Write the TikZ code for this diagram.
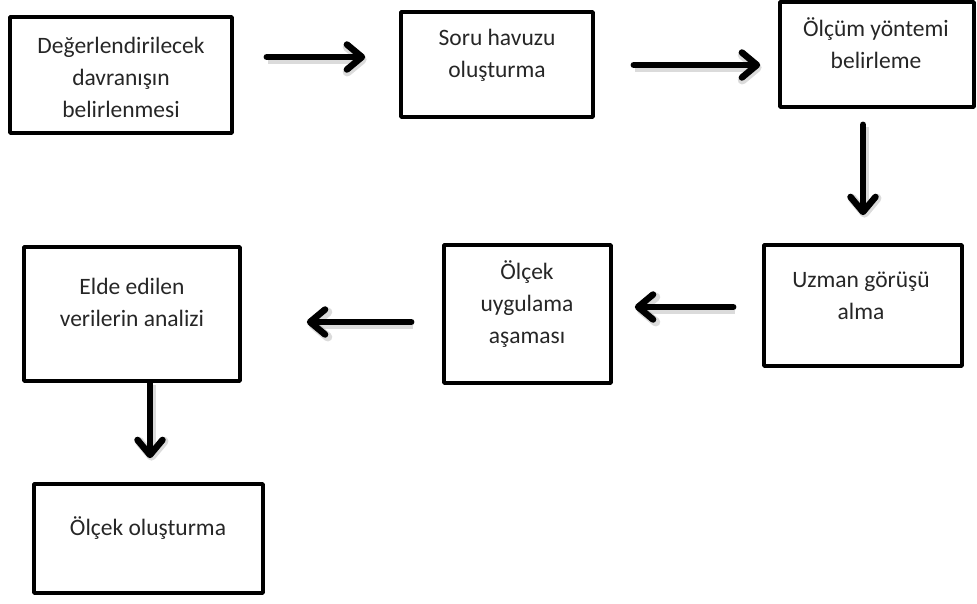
\documentclass[tikz,border=0pt]{standalone}
\usepackage{fontspec}
\setmainfont{Carlito}
\usetikzlibrary{arrows.meta,calc}
\begin{document}
\begin{tikzpicture}[x=1pt,y=-1pt,
  box/.style={draw=black,line width=3.6pt,rectangle,inner sep=0pt,line join=round},
  txt/.style={align=center,inner sep=0pt,text=black!85,font=\fontsize{23.5}{32}\selectfont},
  arr/.style={line width=6.5pt,line cap=round,
    -{Straight Barb[length=15pt,width=25pt,line cap=round,line join=round]},
    preaction={draw=black!40,opacity=0.35,line width=9pt,transform canvas={shift={(1.5pt,-2.5pt)}}}}]
\useasboundingbox (0,0) rectangle (977,603);
% boxes
\node[box,minimum width=222pt,minimum height=116pt] (b1) at (121,75) {};
\node[box,minimum width=192pt,minimum height=105pt] (b2) at (497,64.5) {};
\node[box,minimum width=194pt,minimum height=105pt] (b3) at (877,54.5) {};
\node[box,minimum width=198pt,minimum height=121pt] (b4) at (863,305.5) {};
\node[box,minimum width=167pt,minimum height=138pt] (b5) at (527.5,314) {};
\node[box,minimum width=216pt,minimum height=134pt] (b6) at (132,314) {};
\node[box,minimum width=229pt,minimum height=109pt] (b7) at (148.5,538.5) {};
% texts
\node[txt] (t1) at (121,77) {Değerlendirilecek\\davranışın\\belirlenmesi};
\node[txt] (t2) at (497,55) {Soru havuzu\\oluşturma};
\node[txt] (t3) at (876,43) {Ölçüm yöntemi\\belirleme};
\node[txt] (t4) at (861,296) {Uzman görüşü\\alma};
\node[txt] (t5) at (527,304) {Ölçek\\uygulama\\aşaması};
\node[txt] (t6) at (132,302) {Elde edilen\\verilerin analizi};
\node[txt] (t7) at (148,528) {Ölçek oluşturma};
% arrows
\draw[arr] ($(b1.east)+(33,-18)$) -- ($(b2.west)+(-34,-7.5)$);
\draw[arr] ($(b2.east)+(39,0.5)$) -- ($(b3.west)+(-18,10.5)$);
\draw[arr] ($(b3.south)+(-14,16)$) -- ($(b4.north)+(0,-28)$);
\draw[arr] ($(b4.west)+(-29,1.5)$) -- ($(b5.east)+(22,-7)$);
\draw[arr] ($(b5.west)+(-31,8)$) -- ($(b6.east)+(65,8)$);
\draw[arr] ($(b6.south)+(18,0)$) -- ($(b7.north)+(1.5,-24)$);
\end{tikzpicture}
\end{document}
